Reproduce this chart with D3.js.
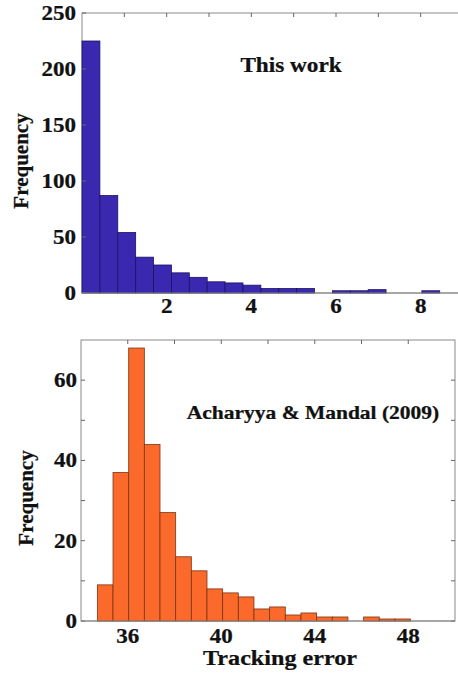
<!DOCTYPE html>
<html><head><meta charset="utf-8">
<script src="https://cdn.jsdelivr.net/npm/d3@7"></script>
<style>
html,body{margin:0;padding:0;background:#fff;}
svg{display:block;}
text{font-family:"Liberation Serif","Times New Roman",serif;font-weight:bold;fill:#111;stroke:#111;stroke-width:0.25px;}
</style></head>
<body>
<svg id="chart" width="458" height="673"></svg>
<script>
// ---- data ----
const topBinStart = 0.0, topBinWidth = 0.4225;
const topCounts = [225, 87, 54, 32, 25, 18, 14, 10, 9, 7, 4, 4, 4, 0, 2, 2, 3, 0, 0, 2];
const topXTicks = [1, 2, 3, 4, 5, 6, 7, 8];
const topXLabels = [2, 4, 6, 8];
const topYTicks = [0, 50, 100, 150, 200, 250];
const topTitle = "This work";

const botBinStart = 34.70, botBinWidth = 0.67;
const botCounts = [9, 37, 68, 44, 27, 16, 12.5, 8, 7, 6, 3, 3.5, 1.5, 2, 1, 1, 0, 1, 0.5, 0.5];
const botXTicks = [36, 38, 40, 42, 44, 46, 48];
const botXLabels = [36, 40, 44, 48];
const botYTicks = [0, 10, 20, 30, 40, 50, 60];
const botYLabels = [0, 20, 40, 60];
const botTitle = "Acharyya & Mandal (2009)";
const yLabel = "Frequency";
const xLabel = "Tracking error";

const svg = d3.select("#chart");
const SX = 1.15; // horizontal stretch of the original image text

function panel(cfg){
  const g = svg.append("g");
  const x = d3.scaleLinear().domain(cfg.xDomain).range([cfg.left, cfg.right]);
  const y = d3.scaleLinear().domain(cfg.yDomain).range([cfg.bottom, cfg.top]);
  const bins = cfg.counts.map((c,i)=>({x0: cfg.binStart + i*cfg.binWidth, x1: cfg.binStart + (i+1)*cfg.binWidth, c}));
  // frame
  g.append("rect").attr("x", cfg.left).attr("y", cfg.top)
    .attr("width", cfg.right - cfg.left).attr("height", cfg.bottom - cfg.top)
    .attr("fill", "none").attr("stroke", "#8a8a8a").attr("stroke-width", 1);
  // bars
  g.selectAll("rect.bar").data(bins.filter(d=>d.c>0)).join("rect").attr("class","bar")
    .attr("x", d=>x(d.x0)).attr("width", d=>x(d.x1)-x(d.x0))
    .attr("y", d=>y(d.c)).attr("height", d=>y(0)-y(d.c))
    .attr("fill", cfg.fill).attr("stroke", cfg.stroke).attr("stroke-width", 0.8);
  // inward ticks
  const tl = 4;
  g.selectAll("line.xt").data(cfg.xTicks).join("line").attr("class","xt")
    .attr("x1", d=>x(d)).attr("x2", d=>x(d)).attr("y1", cfg.top).attr("y2", cfg.top+tl)
    .attr("stroke", "#666").attr("stroke-width", 1);
  g.selectAll("line.yt").data(cfg.yTicks).join("line").attr("class","yt")
    .attr("x1", cfg.right).attr("x2", cfg.right - tl).attr("y1", d=>y(d)).attr("y2", d=>y(d))
    .attr("stroke", "#666").attr("stroke-width", 1);
  g.selectAll("line.ytl").data(cfg.yTicks).join("line").attr("class","ytl")
    .attr("x1", cfg.left).attr("x2", cfg.left + tl).attr("y1", d=>y(d)).attr("y2", d=>y(d))
    .attr("stroke", "#666").attr("stroke-width", 1);
  // baseline
  g.append("line").attr("x1", cfg.left).attr("x2", cfg.right).attr("y1", y(0)).attr("y2", y(0))
    .attr("stroke", "#8a8a8a").attr("stroke-width", 1);
  // x labels
  g.selectAll("text.xl").data(cfg.xLabels).join("text").attr("class","xl")
    .attr("transform", d=>`translate(${x(d)},${cfg.xLabelY}) scale(${SX},1)`)
    .attr("text-anchor","middle").attr("font-size", 20).text(d=>d);
  // y labels
  g.selectAll("text.yl").data(cfg.yLabels).join("text").attr("class","yl")
    .attr("transform", d=>`translate(${cfg.yLabelX},${y(d)+7}) scale(${SX},1)`)
    .attr("text-anchor","end").attr("font-size", 20).text(d=>d);
  // y axis title
  g.append("text").attr("transform", `translate(${cfg.yTitleX},${cfg.yTitleY}) rotate(-90)`)
    .attr("text-anchor","middle").attr("font-size", 21).text(yLabel);
  // inside title
  g.append("text").attr("transform", `translate(${cfg.titleX},${cfg.titleY}) scale(${SX},1)`)
    .attr("text-anchor","middle").attr("font-size", cfg.titleSize).text(cfg.title);
  return {x, y, g};
}

panel({
  left: 82, right: 463, top: 13, bottom: 293,
  xDomain: [0, 9], yDomain: [0, 250],
  binStart: topBinStart, binWidth: topBinWidth, counts: topCounts,
  fill: "#3a28b0", stroke: "#1c1260",
  xTicks: topXTicks, xLabels: topXLabels, yTicks: topYTicks, yLabels: topYTicks,
  xLabelY: 313, yLabelX: 76, yTitleX: 28, yTitleY: 161,
  title: topTitle, titleX: 291, titleY: 72, titleSize: 20.2
});

panel({
  left: 81, right: 455, top: 340, bottom: 621,
  xDomain: [34, 50], yDomain: [0, 70],
  binStart: botBinStart, binWidth: botBinWidth, counts: botCounts,
  fill: "#fb6a2a", stroke: "#7a3414",
  xTicks: botXTicks, xLabels: botXLabels, yTicks: botYTicks, yLabels: botYLabels,
  xLabelY: 643, yLabelX: 77, yTitleX: 33, yTitleY: 498,
  title: botTitle, titleX: 313, titleY: 419, titleSize: 18.7
});

// x axis title (bottom panel)
svg.append("text").attr("transform", `translate(280,665) scale(${SX},1)`)
  .attr("text-anchor","middle").attr("font-size", 21).text(xLabel);
</script>
</body></html>
